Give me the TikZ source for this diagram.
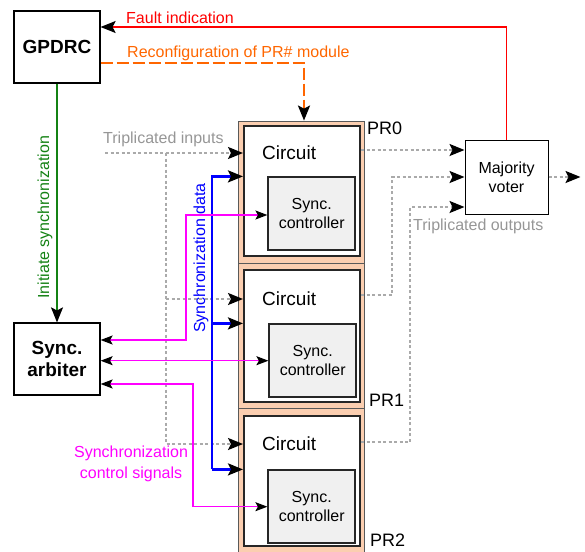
\documentclass[tikz,border=0pt]{standalone}
\usepackage{fontspec}
\setmainfont{Liberation Sans}
\usetikzlibrary{arrows.meta, positioning}
\definecolor{colorPeach}{RGB}{251, 206, 176}
\definecolor{colorFault}{RGB}{255, 0, 0}
\definecolor{colorReconf}{RGB}{255, 102, 0}
\definecolor{colorInit}{RGB}{20, 130, 20}
\definecolor{colorData}{RGB}{0, 0, 255}
\definecolor{colorCtrl}{RGB}{255, 0, 255}
\definecolor{colorTri}{RGB}{170, 170, 170}
\definecolor{colorTriText}{RGB}{150, 150, 150}
\definecolor{colorSync}{RGB}{240, 240, 240}

\begin{document}
\begin{tikzpicture}[
  x=1pt, y=-1pt,
  bbox/.style={draw,line width=1.2pt,minimum width=86pt,minimum height=72pt,
    font=\fontsize{19}{22}\selectfont\bfseries,align=center},
  prbox/.style={draw=gray!70!black,line width=0.8pt,fill=colorPeach,
    minimum width=126pt,minimum height=#1},
  prbox/.default=144pt,
  cbox/.style={draw=black!85,line width=2pt,fill=white,minimum width=116pt,
    minimum height=#1},
  cbox/.default=130pt,
  sbox/.style={draw=black!85,line width=1.6pt,fill=colorSync,minimum width=87pt,
    minimum height=73pt,font=\fontsize{16}{19}\selectfont,align=center},
  vbox/.style={draw,line width=1pt,minimum width=83pt,minimum height=74pt,
    font=\fontsize{16}{19}\selectfont,align=center},
  lbl/.style={font=\fontsize{16}{19}\selectfont,inner sep=0pt},
  big/.style={font=\fontsize{19}{22}\selectfont,inner sep=0pt},
  arr/.style={-{Stealth[length=15pt,width=12pt,inset=3pt,color=black]}},
  barr/.style={{Stealth[length=12pt,width=9pt,inset=2.5pt,color=black]}-{Stealth[length=12pt,width=9pt,inset=2.5pt,color=black]}},
  tri/.style={colorTri,line width=2.2pt,dash pattern=on 3pt off 2.5pt},
]
\useasboundingbox (0,0) rectangle (585,551);

% Controller and arbiter
\node[bbox] (gpdrc) at (57,47) {GPDRC};
\node[bbox] (arb) at (57,359) {Sync.\\arbiter};

% PR modules
\node[prbox=142pt] (pr0) at (301,192) {};
\node[prbox=145pt] (pr1) at (301,335.5) {};
\node[prbox=144pt] (pr2) at (301,480) {};

% Circuits
\node[cbox=130pt] (circ0) at (302,191) {};
\node[cbox=132pt] (circ1) at (302,336) {};
\node[cbox=130pt] (circ2) at (302,481) {};
\node[big, anchor=west] (t0) at (262,153) {Circuit};
\node[big, anchor=west] (t1) at (262,299) {Circuit};
\node[big, anchor=west] (t2) at (262,444) {Circuit};

% Sync controllers
\node[sbox, above left=6pt and 5pt of circ0.south east] (ctl0) {Sync.\\controller};
\node[sbox, above left=5pt and 4pt of circ1.south east] (ctl1) {Sync.\\controller};
\node[sbox, above left=3pt and 5pt of circ2.south east] (ctl2) {Sync.\\controller};

% PR labels
\node[big, font=\fontsize{18}{21}\selectfont, anchor=west] (l0) at (367,128.5) {PR0};
\node[big, font=\fontsize{18}{21}\selectfont, anchor=west] (l1) at (369,400) {PR1};
\node[big, font=\fontsize{18}{21}\selectfont, anchor=west] (l2) at (370,540) {PR2};

% Voter
\node[vbox] (voter) at (506.5,177) {Majority\\voter};

% Fault indication
\draw[colorFault,line width=1.4pt,arr] (voter.north) |- ([yshift=20pt]gpdrc.east);
\node[lbl, colorFault, anchor=west] (lfault) at (126,18) {Fault indication};

% Reconfiguration
\draw[colorReconf,line width=2.4pt,dash pattern=on 12pt off 4pt,arr]
  ([yshift=-16pt]gpdrc.east) -| ([xshift=3pt]pr0.north);
\node[lbl, colorReconf, anchor=west] (lreconf) at (127,53) {Reconfiguration of PR\# module};

% Initiate synchronization
\draw[colorInit,line width=1.3pt,arr] (gpdrc) -- node[lbl, pos=0.56, rotate=90,
  anchor=south, inner sep=4pt] (linit) {Initiate synchronization} (arb);

% Triplicated inputs
\coordinate (ibus) at (166,0);
\coordinate (iin) at (105,153);
\draw[tri,arr] (iin) -- (circ0.west |- t0);
\draw[tri,arr] (ibus |- iin) |- (circ2.west |- t2);
\draw[tri,arr] (ibus |- t1) -- (circ1.west |- t1);
\node[lbl, colorTriText, anchor=west] (ltrin) at (103,139) {Triplicated inputs};

% Synchronization data
\coordinate (dbus) at (212,0);
\draw[colorData,line width=2.4pt,arr] (dbus |- ctl2.north) |- (circ0.west |- ctl0.north);
\draw[colorData,line width=2.4pt,arr] (dbus |- ctl1.north) -- (circ1.west |- ctl1.north);
\draw[colorData,line width=2.4pt,arr] (dbus |- ctl2.north) -- (circ2.west |- ctl2.north);
\node[lbl, colorData, rotate=90] (ldata) at (201,258) {Synchronization data};

% Synchronization control signals
\coordinate (cb0) at (186,215);
\coordinate (cb2) at (193,384);
\draw[colorCtrl,line width=1.5pt,barr] ([yshift=19pt]arb.east) -| (cb0) -- (ctl0.west |- cb0);
\draw[colorCtrl,line width=1.5pt,barr] (arb.east |- ctl1.west) -- (ctl1.west);
\draw[colorCtrl,line width=1.5pt,barr] (arb.east |- cb2) -- (cb2) |- (ctl2.west);
\node[lbl, colorCtrl, align=center] (lctrl) at (131,464) {Synchronization\\[2pt]control signals};

% Triplicated outputs
\coordinate (vin0) at ([yshift=27pt]voter.west);
\coordinate (vin1) at (voter.west);
\coordinate (vin2) at ([yshift=-30pt]voter.west);
\coordinate (ob1) at (392,0);
\coordinate (ob2) at (410,0);
\coordinate (vout) at ([xshift=32pt]voter.east);
\draw[tri,arr] (circ0.east |- vin0) -- (vin0);
\draw[tri,arr] ([yshift=4pt]circ1.east |- t1) -| (ob1 |- vin1) -- (vin1);
\draw[tri,arr] ([yshift=2pt]circ2.east |- t2) -| (ob2 |- vin2) -- (vin2);
\draw[tri,arr] (voter.east) -- (vout);
\node[lbl, colorTriText, anchor=west] (ltrout) at (413,226) {Triplicated outputs};

\end{tikzpicture}
\end{document}
